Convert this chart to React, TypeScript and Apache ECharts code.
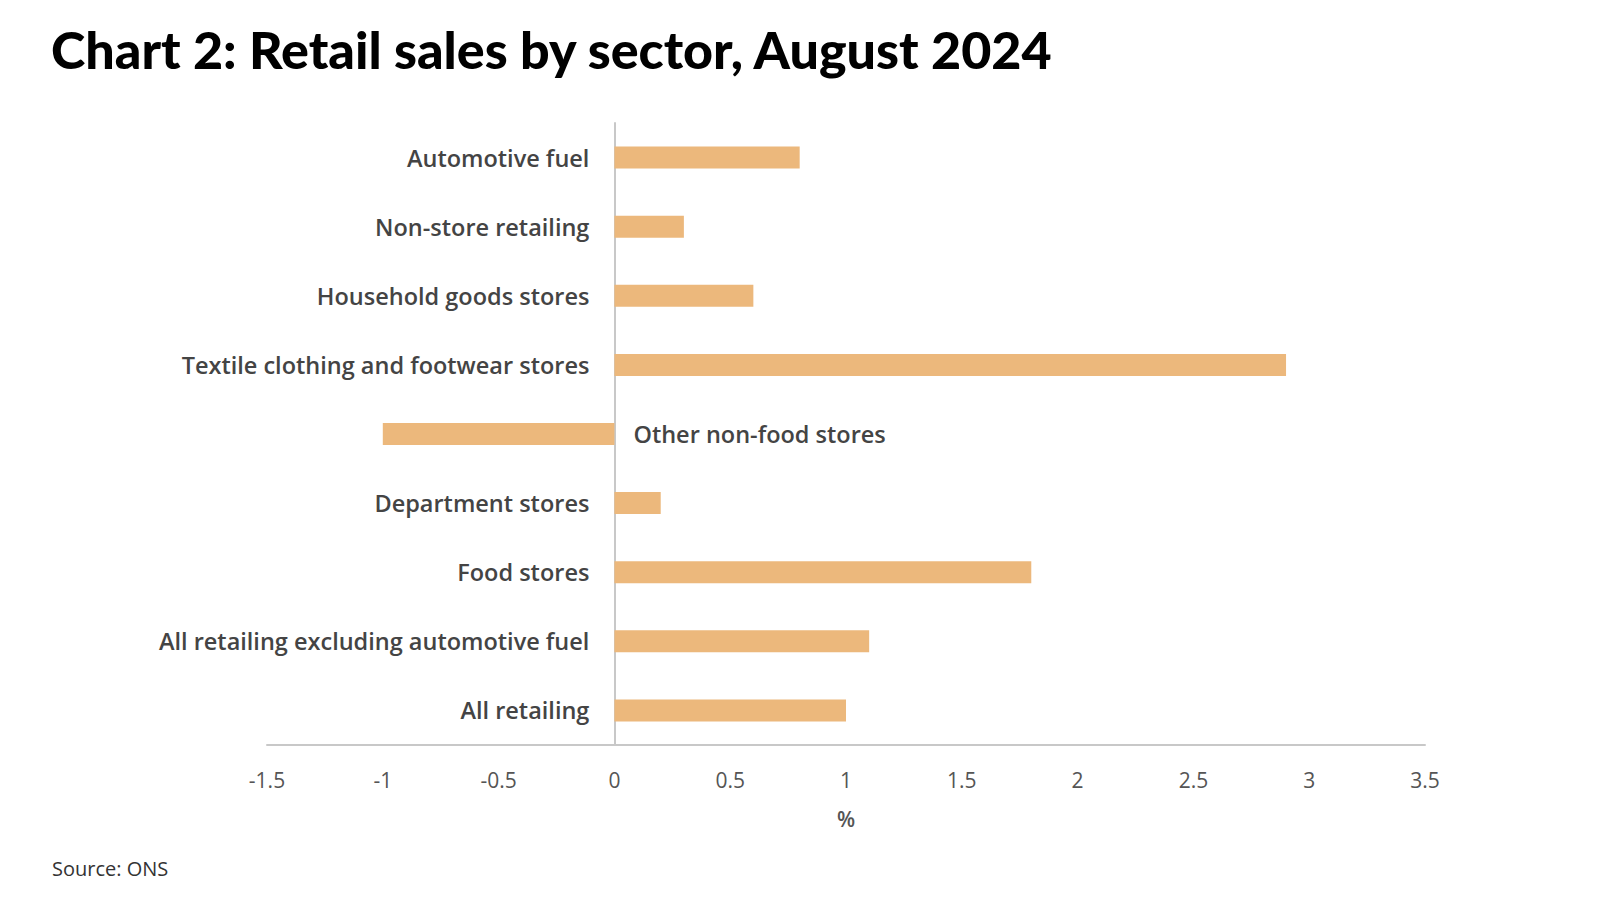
import React, { useEffect, useRef } from "react";
import * as echarts from "echarts";

const categories = [
  "Automotive fuel",
  "Non-store retailing",
  "Household goods stores",
  "Textile clothing and footwear stores",
  "Other non-food stores",
  "Department stores",
  "Food stores",
  "All retailing excluding automotive fuel",
  "All retailing",
];
const values = [0.8, 0.3, 0.6, 2.9, -1.0, 0.2, 1.8, 1.1, 1.0];
const xMin = -1.5;
const xMax = 3.5;
const xInterval = 0.5;
const titleText = "Chart 2: Retail sales by sector, August 2024";
const sourceText = "Source: ONS";
const axisName = "%";

const TITLE_FONT = "Lato, 'Open Sans', sans-serif";
const FONT = "'Open Sans', Lato, sans-serif";

export default function App() {
  const ref = useRef<HTMLDivElement>(null);
  useEffect(() => {
    if (!ref.current) return;
    const chart = echarts.init(ref.current, null, { renderer: "svg" });
    const labelStyle = {
      fontFamily: FONT,
      fontSize: 23.5,
      fontWeight: 600 as any,
      color: "#444444",
    };
    chart.setOption({
      animation: false,
      backgroundColor: "#ffffff",
      title: [
        {
          text: titleText,
          left: 46,
          top: 18,
          textStyle: {
            fontFamily: TITLE_FONT,
            fontSize: 52,
            fontWeight: 900,
            color: "#000000",
          },
        },
        {
          text: sourceText,
          left: 47,
          top: 853,
          textStyle: {
            fontFamily: FONT,
            fontSize: 20,
            fontWeight: 500,
            color: "#333333",
          },
        },
      ],
      grid: {
        left: 267,
        right: 175,
        top: 123,
        bottom: 155,
        containLabel: false,
        outerBoundsMode: "none",
      },
      xAxis: {
        type: "value",
        min: xMin,
        max: xMax,
        interval: xInterval,
        name: axisName,
        nameLocation: "middle",
        nameGap: 63,
        nameTextStyle: { fontFamily: FONT, fontSize: 21, fontWeight: 600, color: "#555555" },
        axisLine: { show: true, onZero: false, lineStyle: { color: "#c8c8c8", width: 2 } },
        axisTick: { show: false },
        splitLine: { show: false },
        axisLabel: {
          margin: 24,
          fontFamily: FONT,
          fontSize: 21,
          fontWeight: 500,
          color: "#555555",
        },
      },
      yAxis: {
        type: "category",
        data: categories,
        inverse: true,
        position: "left",
        axisLine: { show: true, onZero: true, lineStyle: { color: "#c8c8c8", width: 2 } },
        axisTick: { show: false },
        splitLine: { show: false },
        axisLabel: { show: false },
      },
      series: [
        {
          type: "bar",
          data: values.map((v, i) => ({
            value: v,
            label: {
              show: true,
              position: v < 0 ? "right" : "left",
              distance: v < 0 ? 19 : 25,
              formatter: categories[i],
              ...labelStyle,
            },
          })),
          barWidth: 22,
          itemStyle: { color: "#ecb87c" },
        },
      ],
    });
    return () => chart.dispose();
  }, []);
  return (
    <div
      ref={ref}
      style={{ position: "absolute", left: 0, top: 0, width: 1600, height: 900 }}
    />
  );
}
